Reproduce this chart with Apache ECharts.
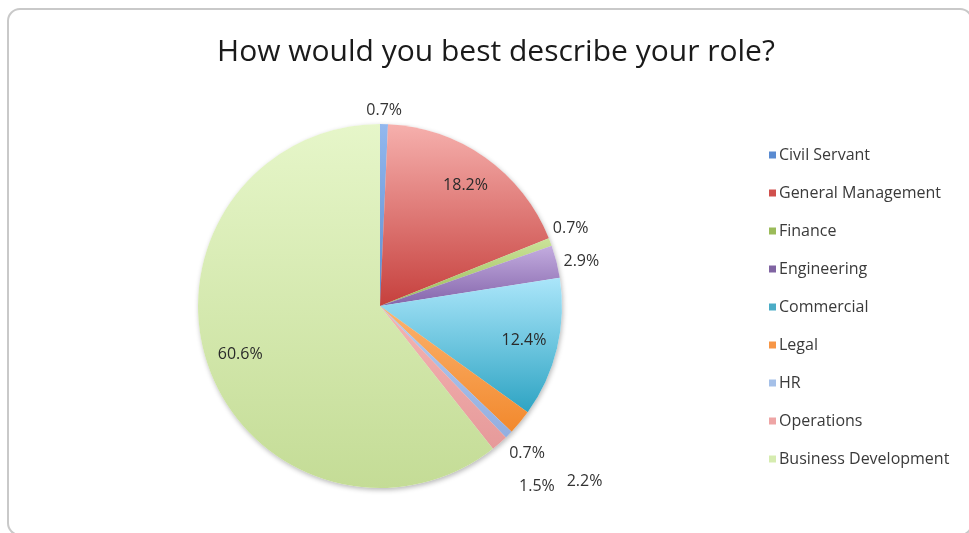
<!DOCTYPE html>
<html>
<head>
<meta charset="utf-8">
<script src="https://cdn.jsdelivr.net/npm/echarts@6/dist/echarts.min.js"></script>
<style>
  html, body { margin: 0; padding: 0; background: #ffffff; }
  #chart { width: 969px; height: 533px; }
</style>
</head>
<body>
<div id="chart"></div>
<script>
// Survey answers: share of respondents per role (percent)
const titleText = 'How would you best describe your role?';
const categories = [
  'Civil Servant', 'General Management', 'Finance', 'Engineering', 'Commercial',
  'Legal', 'HR', 'Operations', 'Business Development'
];
const shares = [0.7, 18.2, 0.7, 2.9, 12.4, 2.2, 0.7, 1.5, 60.6];

// Slice palette: [legend swatch, light top, dark bottom]
const palette = {
  'Civil Servant':        ['#5a8bd1', '#93b8ee', '#5b8bd0'],
  'General Management':   ['#d0504d', '#f6b0ad', '#c6403d'],
  'Finance':              ['#9bbb59', '#cbe39a', '#9bbb59'],
  'Engineering':          ['#8064a2', '#c3acdf', '#8465ab'],
  'Commercial':           ['#4bacc6', '#abe6fa', '#2ea4c3'],
  'Legal':                ['#f79646', '#fbb36f', '#f2892d'],
  'HR':                   ['#a5c0e8', '#b6ccef', '#92aee0'],
  'Operations':           ['#eea5a5', '#f4b4b3', '#e69a9a'],
  'Business Development': ['#d6ecb0', '#e6f6c9', '#c4dc96']
};

// Labels drawn on the slice itself
const insideLabelled = ['General Management', 'Commercial', 'Business Development'];
// Outside labels: leader length / horizontal run (no visible leader line)
const outsidePlacement = {
  'Civil Servant': [14, -23],
  'Finance':       [39, -39],
  'Engineering':   [0, 2],
  'Legal':         [92, -29],
  'HR':            [26, -23],
  'Operations':    [57, -23]
};

const FONT = '"Open Sans", Lato, sans-serif';
const pieCenter = [380, 306];
const pieRadius = 182;

function gradient(name) {
  const c = palette[name];
  return new echarts.graphic.LinearGradient(0, 0, 0, 1, [
    { offset: 0, color: c[1] },
    { offset: 1, color: c[2] }
  ]);
}
const pctText = p => p.value.toFixed(1) + '%';

const mainData = categories.map((name, i) => {
  const place = outsidePlacement[name];
  return {
    name: name,
    value: shares[i],
    itemStyle: { color: gradient(name) },
    label: { show: !!place },
    labelLine: place ? { show: false, length: place[0], length2: place[1] } : { show: false }
  };
});

const ringData = categories.map((name, i) => ({
  name: name,
  value: shares[i],
  label: { show: insideLabelled.indexOf(name) >= 0 }
}));

const shadowData = categories.map((name, i) => ({ name: name, value: shares[i] }));

const chart = echarts.init(document.getElementById('chart'), null, { renderer: 'canvas' });
chart.setOption({
  animation: false,
  backgroundColor: '#ffffff',
  textStyle: { fontFamily: FONT },
  title: {
    text: titleText,
    left: 491,
    textAlign: 'center',
    top: 32,
    textStyle: { fontFamily: FONT, fontSize: 30, fontWeight: 'normal', color: '#1a1a1a' }
  },
  graphic: [{
    type: 'rect',
    shape: { x: 8, y: 9, width: 964, height: 526, r: 12 },
    style: { fill: 'none', stroke: '#c9c9c9', lineWidth: 2 },
    silent: true,
    z: -10
  }],
  legend: {
    orient: 'vertical',
    left: 764,
    top: 141,
    icon: 'rect',
    itemWidth: 7,
    itemHeight: 7,
    itemGap: 20,
    textStyle: { fontFamily: FONT, fontSize: 16, color: '#3a3a3a', lineHeight: 18, padding: [0, 0, 0, -2] },
    data: categories.map(name => ({ name: name, itemStyle: { color: palette[name][0] } })),
    selectedMode: false
  },
  series: [
    {
      // soft drop shadow under the pie
      type: 'pie',
      silent: true,
      center: pieCenter,
      radius: pieRadius,
      startAngle: 90,
      z: 1,
      label: { show: false },
      labelLine: { show: false },
      itemStyle: {
        color: '#ffffff',
        shadowBlur: 5,
        shadowOffsetX: 1,
        shadowOffsetY: 2,
        shadowColor: 'rgba(0,0,0,0.28)'
      },
      data: shadowData
    },
    {
      type: 'pie',
      center: pieCenter,
      radius: pieRadius,
      startAngle: 90,
      clockwise: true,
      avoidLabelOverlap: false,
      z: 2,
      itemStyle: { borderWidth: 0 },
      label: {
        position: 'outside',
        formatter: pctText,
        fontFamily: FONT,
        fontSize: 16,
        color: '#333333',
        distanceToLabelLine: 5
      },
      emphasis: { disabled: true },
      data: mainData
    },
    {
      // ring used only to place the labels on the large slices
      type: 'pie',
      silent: true,
      center: pieCenter,
      radius: [108, pieRadius],
      startAngle: 90,
      clockwise: true,
      z: 3,
      itemStyle: { color: 'rgba(0,0,0,0)' },
      label: {
        position: 'inside',
        formatter: pctText,
        fontFamily: FONT,
        fontSize: 16,
        color: '#2a2a2a'
      },
      labelLine: { show: false },
      data: ringData
    }
  ]
});
</script>
</body>
</html>
